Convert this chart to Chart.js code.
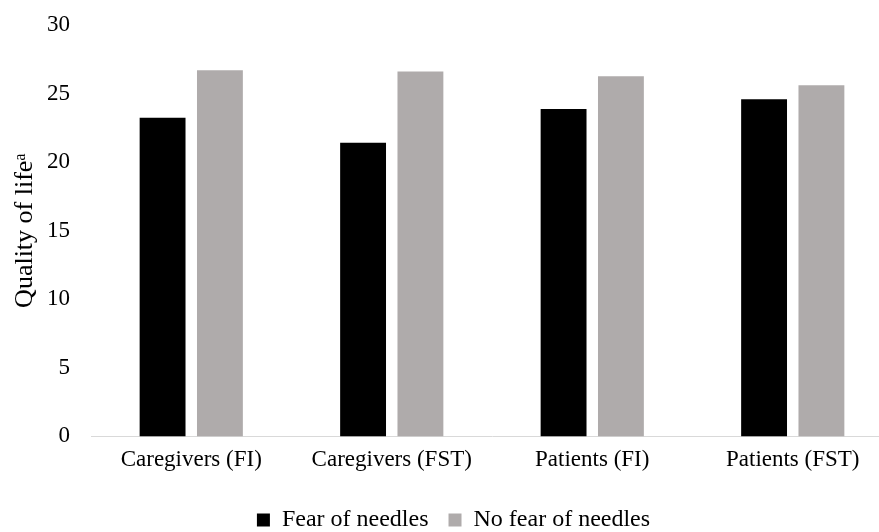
<!DOCTYPE html>
<html>
<head>
<meta charset="utf-8">
<script src="https://cdn.jsdelivr.net/npm/chart.js@4/dist/chart.umd.min.js"></script>
<style>
  html, body { margin: 0; padding: 0; background: #fff; overflow: hidden; width: 879px; height: 532px; }
  #wrap { position: relative; width: 893px; height: 538px; }
</style>
</head>
<body>
<div id="wrap"><canvas id="c"></canvas></div>
<script>
const categories = ['Caregivers (FI)', 'Caregivers (FST)', 'Patients (FI)', 'Patients (FST)'];
const fearOfNeedles = [23.24, 21.41, 23.87, 24.58];
const noFearOfNeedles = [26.70, 26.61, 26.26, 25.60];
const seriesNames = ['Fear of needles', 'No fear of needles'];
const yTitle = 'Quality of life\u1D43';

const FONT = '"Liberation Serif", "Times New Roman", serif';

const shiftLegend = {
  id: 'shiftLegend',
  afterLayout(chart) {
    const l = chart.legend;
    if (!l) return;
    l.left += 7; l.right += 7;
    l.top += 4; l.bottom += 4;
  }
};

new Chart(document.getElementById('c'), {
  type: 'bar',
  data: {
    labels: categories,
    datasets: [
      { label: seriesNames[0], data: fearOfNeedles, backgroundColor: '#000000', borderWidth: 0 },
      { label: seriesNames[1], data: noFearOfNeedles, backgroundColor: '#AFABAB', borderWidth: 0 }
    ]
  },
  options: {
    responsive: true,
    maintainAspectRatio: false,
    animation: false,
    devicePixelRatio: 1,
    datasets: { bar: { categoryPercentage: 0.572, barPercentage: 0.80 } },
    layout: { padding: { top: 25, left: 0, right: 0, bottom: 0 } },
    plugins: {
      tooltip: { enabled: false },
      legend: {
        position: 'bottom',
        labels: {
          color: '#000',
          font: { family: FONT, size: 24 },
          boxWidth: 13,
          boxHeight: 13,
          padding: 20
        }
      }
    },
    scales: {
      x: {
        grid: { display: false, drawTicks: false },
        border: { display: true, color: '#D9D9D9', width: 1 },
        ticks: {
          color: '#000',
          font: { family: FONT, size: 23 },
          padding: 10,
          maxRotation: 0,
          autoSkip: false
        }
      },
      y: {
        min: 0,
        max: 30,
        grid: { display: false, drawTicks: false },
        border: { display: false },
        afterFit(scale) { scale.width = 91; scale.paddingTop = 0; scale.paddingBottom = 0; },
        ticks: {
          stepSize: 5,
          color: '#000',
          font: { family: FONT, size: 23 },
          padding: 21
        },
        title: {
          display: true,
          text: yTitle,
          color: '#000',
          font: { family: FONT, size: 26 },
          padding: { top: 9.5, bottom: 0 }
        }
      }
    }
  },
  plugins: [shiftLegend]
});
</script>
</body>
</html>
